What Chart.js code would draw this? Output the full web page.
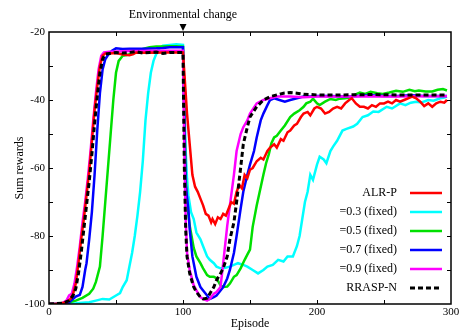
<!DOCTYPE html>
<html lang="en">
<head>
    <meta charset="UTF-8">
    <title>Sum rewards per episode</title>
    <script src="https://cdn.jsdelivr.net/npm/chart.js@4.4.1/dist/chart.umd.min.js"></script>
    <style>
        body {
            margin: 0;
            background-color: #FFFFFF;
        }
        #wrap {
            width: 463px;
            height: 331px;
        }
    </style>
</head>
<body>
    <div id="wrap">
        <canvas id="rewardChart" width="463" height="331"></canvas>
    </div>

    <script>
        // x axis: episode, y axis: sum rewards
        const xTicks = [0, 100, 200, 300];
        const yTicks = [-100, -80, -60, -40, -20];
        const changeEpisode = 100;
        const changeLabel = 'Environmental change';

        const seriesLabels = ['ALR-P', '=0.3 (fixed)', '=0.5 (fixed)', '=0.7 (fixed)', '=0.9 (fixed)', 'RRASP-N'];
        const seriesColors = ['#FF0000', '#00FFFF', '#00E000', '#0000FF', '#FF00FF', '#000000'];

        // ALR-P
        const alrEp = [0, 5, 10, 13, 16, 18, 20, 22, 24, 26, 28, 30, 32, 34, 36, 38, 40, 42, 45, 50, 55, 60, 63, 65, 70, 75, 80, 85, 90, 95, 100,
            101, 102, 103, 105, 107, 109, 111, 113, 115, 117, 119, 121, 122, 124, 126, 128, 130, 132, 134, 136, 138, 140, 142, 144, 146, 148, 150,
            152, 155, 158, 160, 163, 165, 168, 170, 173, 175, 178, 180, 183, 185, 188, 190, 193, 195, 198, 200, 203, 206, 209, 212, 215, 218, 221,
            224, 226, 229, 232, 235, 238, 241, 244, 247, 250, 253, 256, 259, 262, 265, 268, 271, 274, 277, 280, 283, 286, 289, 292, 295, 297];
        const alrVal = [-100, -100, -99.7, -99.5, -98.5, -97, -94, -88, -81, -75, -68, -61, -52, -43, -36, -30, -27, -26.3, -26.3, -26.2, -26.6, -26.8, -26.5, -26, -26.1, -26, -26.1, -26, -26, -26, -26,
            -32, -38, -44, -53, -62, -65.5, -67, -69, -71, -73.5, -74, -76, -75, -76.5, -74.5, -75, -73.5, -74, -72, -70, -70.5, -67, -65, -66, -62, -63, -60.5,
            -60, -58, -57, -57.5, -55, -54, -53, -54, -51.5, -52, -49.5, -49, -47.5, -47, -45, -44, -43.5, -44.5, -42.5, -42, -42.5, -44, -43.5, -42.5, -42, -42.5, -41,
            -40, -39.5, -41, -42, -42, -42.5, -41.5, -42, -41, -41, -40.5, -41, -40, -40.5, -40, -39.5, -39, -39.5, -40.5, -41.8, -41, -42, -41, -40.5, -40.8, -40];

        // fixed 0.3
        const p3Ep = [0, 10, 20, 30, 35, 40, 45, 50, 53, 55, 58, 60, 62, 64, 66, 68, 70, 72, 74, 76, 78, 80, 82, 85, 90, 95, 100,
            101, 102, 103, 104, 106, 108, 110, 113, 115, 118, 120, 123, 125, 128, 131, 135, 138, 141, 145, 148, 152, 156, 160, 163, 167, 171, 175, 178, 182, 185,
            187, 189, 191, 193, 195, 197, 200, 202, 205, 207, 210, 212, 215, 219, 222, 227, 230, 234, 238, 242, 246, 252, 256, 262, 266, 270, 274, 278, 283, 287, 292, 295, 297];
        const p3Val = [-100, -100, -99.8, -99.5, -99, -98.5, -98.7, -97.5, -96.8, -95, -93, -89, -85, -80, -74, -67, -58, -46, -38, -32, -28.5, -26.5, -25, -24, -23.8, -23.6, -23.8,
            -40, -55, -63, -68, -73, -75, -79, -81, -83, -86, -87, -88, -89, -89.5, -89.4, -89, -88.5, -88, -88.5, -89, -90, -91, -90, -89, -88.5, -87, -87.5, -86, -86, -83,
            -80, -75, -70, -67, -62, -63.5, -59, -56.7, -57.5, -58.6, -55, -53.7, -52, -49, -48.5, -47.8, -47, -45, -44.5, -43.4, -43.5, -42, -42.5, -41, -41.5, -40.8, -40.5, -40.7, -40, -40.2, -39.5, -39.3, -39];

        // fixed 0.5
        const p5Ep = [0, 10, 15, 20, 25, 30, 33, 35, 38, 40, 42, 44, 46, 48, 50, 52, 55, 58, 60, 63, 66, 70, 75, 80, 85, 90, 95, 100,
            101, 102, 103, 105, 108, 110, 113, 115, 118, 120, 123, 125, 128, 130, 133, 135, 138, 140, 143, 146, 148, 150, 152, 155, 157, 160, 162, 164, 166, 168,
            170, 173, 176, 180, 183, 187, 190, 192, 195, 197, 200, 202, 206, 210, 214, 217, 221, 224, 228, 232, 236, 240, 245, 249, 254, 259, 264, 269, 273, 276, 281, 286, 290, 294, 297];
        const p5Val = [-100, -100, -99.5, -99, -98.2, -97, -95.5, -93.5, -89, -80, -70, -60, -50, -40, -32, -28.5, -27, -26.8, -26.5, -26, -25.5, -25, -24.5, -24.3, -24.3, -24.2, -24.2, -24.3,
            -45, -62, -70, -77, -83.5, -86, -88, -89.5, -91.5, -92, -92, -92.4, -94.5, -95, -94.9, -94, -92, -91.5, -89.5, -87, -85.5, -84, -77.3, -71, -67.4, -62, -58.6, -56, -52.7, -51,
            -50.5, -49, -47.5, -45, -44, -43, -42, -41, -40.5, -39.6, -41, -41.5, -40.5, -39.7, -40, -39.6, -39.5, -39.3, -38.5, -37.8, -38.2, -37.6, -38, -38.2, -37.8, -37.3, -37.6, -37, -37.4, -37.2, -37.5, -37.5, -37, -36.8, -37.2];

        // fixed 0.7
        const p7Ep = [0, 10, 15, 18, 20, 23, 25, 27, 28, 30, 32, 34, 36, 38, 40, 42, 44, 47, 50, 55, 60, 70, 80, 85, 90, 100,
            101, 102, 104, 105, 107, 110, 113, 115, 118, 120, 123, 125, 128, 130, 133, 135, 138, 140, 143, 145, 148, 150, 153, 155, 158, 160, 163, 165,
            168, 172, 176, 180, 185, 190, 195, 200, 210, 220, 230, 240, 250, 260, 270, 280, 290, 297];
        const p7Val = [-100, -100, -99.5, -98.5, -97.8, -97.3, -95, -90, -88, -81, -73, -62, -49, -38, -31, -28, -26.8, -25.5, -24.8, -25, -24.9, -24.9, -24.8, -24.7, -24.5, -24.5,
            -45, -65, -72, -78, -86, -92, -95, -96, -97.5, -98.5, -98, -97.5, -96, -95, -92.5, -90, -85, -80, -72, -67, -62, -59, -55, -51, -46, -44, -41.5, -40,
            -39.5, -40, -40.5, -40, -39.5, -39, -39, -38.8, -38.8, -39, -38.8, -38.6, -38.8, -38.8, -38.6, -38.8, -38.8, -38.8];

        // fixed 0.9
        const p9Ep = [0, 5, 10, 13, 15, 17, 19, 21, 23, 25, 27, 29, 31, 33, 35, 37, 39, 41, 45, 50, 60, 70, 80, 90, 100,
            101, 102, 103, 105, 108, 110, 113, 115, 118, 120, 123, 125, 128, 130, 133, 135, 138, 140, 143, 145, 148, 150, 155, 160, 165, 170, 180, 190, 200, 220, 240, 260, 280, 297];
        const p9Val = [-100, -100, -99.7, -99, -97.5, -97, -94, -89, -83, -76, -70, -63, -55, -46, -38, -31, -27, -26, -25.8, -25.7, -25.6, -25.6, -25.5, -25.5, -25.5,
            -55, -75, -85, -90, -94.5, -96, -98, -98.5, -99, -98.5, -97, -96.5, -95, -88, -77, -71, -62, -55, -50, -48, -46, -44, -41, -40, -39.5, -39, -39, -39.2, -39, -39, -38.9, -39, -38.9, -38.9];

        // RRASP-N
        const rrEp = [0, 10, 15, 18, 20, 22, 24, 26, 28, 30, 32, 34, 36, 38, 40, 42, 45, 50, 55, 60, 65, 70, 75, 80, 85, 90, 95, 100,
            101, 102, 103, 105, 108, 110, 113, 115, 118, 120, 123, 125, 128, 130, 133, 135, 138, 140, 143, 145, 148, 150, 155, 160, 165, 170, 175, 180, 185, 190, 200, 220, 240, 260, 280, 297];
        const rrVal = [-100, -99.8, -99, -97.5, -95.5, -91, -85, -78, -71, -64, -56, -47, -39, -32, -28, -26.5, -26.3, -26, -26.2, -26, -25.8, -26.2, -26, -25.9, -26.3, -26, -26, -26,
            -60, -78, -86, -91, -95, -96.5, -98, -98.5, -98.3, -97, -95, -93, -91, -89.5, -86, -81, -76, -70, -60, -53, -48, -45, -42, -40, -39, -38.5, -38, -37.8, -38, -38.3, -38.5, -38.5, -38.4, -38.5, -38.5, -38.5];

        const seriesEp = [alrEp, p3Ep, p5Ep, p7Ep, p9Ep, rrEp];
        const seriesVal = [alrVal, p3Val, p5Val, p7Val, p9Val, rrVal];

        const datasets = seriesLabels.map((label, i) => ({
            label: label,
            data: seriesEp[i].map((ep, j) => ({ x: ep, y: seriesVal[i][j] })),
            borderColor: seriesColors[i],
            borderWidth: i === 5 ? 3 : 2.5,
            borderDash: i === 5 ? [5, 3] : [],
            pointRadius: 0,
            tension: 0,
            fill: false,
            // red sits on top of the coloured curves, dashed line on top of all
            order: i === 5 ? 0 : (i === 0 ? 1 : 10 - i)
        }));

        // frame, inside ticks on all four sides, and the change marker
        const framePlugin = {
            id: 'frame',
            afterDraw(chart) {
                const ctx = chart.ctx;
                const a = chart.chartArea;
                const xs = chart.scales.x;
                const ys = chart.scales.y;
                ctx.save();
                ctx.strokeStyle = '#000000';
                ctx.lineWidth = 1.5;
                ctx.strokeRect(a.left, a.top, a.right - a.left, a.bottom - a.top);

                ctx.lineWidth = 1;
                ctx.beginPath();
                for (let v = 50; v < 300; v += 50) {
                    const px = Math.round(xs.getPixelForValue(v)) + 0.5;
                    ctx.moveTo(px, a.bottom); ctx.lineTo(px, a.bottom - 4);
                    ctx.moveTo(px, a.top); ctx.lineTo(px, a.top + 4);
                }
                for (let v = -90; v < -20; v += 10) {
                    const py = Math.round(ys.getPixelForValue(v)) + 0.5;
                    ctx.moveTo(a.left, py); ctx.lineTo(a.left + 4, py);
                    ctx.moveTo(a.right, py); ctx.lineTo(a.right - 4, py);
                }
                ctx.stroke();

                // Environmental change label + arrow
                const cx = xs.getPixelForValue(changeEpisode);
                ctx.fillStyle = '#000000';
                ctx.font = '12px "Liberation Serif", serif';
                ctx.textAlign = 'center';
                ctx.textBaseline = 'alphabetic';
                ctx.fillText(changeLabel, cx, 18);
                ctx.beginPath();
                ctx.moveTo(cx - 3.5, a.top - 8);
                ctx.lineTo(cx + 3.5, a.top - 8);
                ctx.lineTo(cx, a.top - 1);
                ctx.closePath();
                ctx.fill();

                // legend, bottom right inside the plot
                ctx.font = '12px "Liberation Serif", serif';
                ctx.textAlign = 'right';
                ctx.textBaseline = 'middle';
                chart.data.datasets.forEach((ds, i) => {
                    const ry = a.bottom - 111 + i * 19;
                    ctx.fillStyle = '#000000';
                    ctx.fillText(ds.label, a.right - 54, ry);
                    ctx.strokeStyle = ds.borderColor;
                    ctx.lineWidth = ds.borderWidth;
                    ctx.setLineDash(ds.borderDash);
                    ctx.beginPath();
                    ctx.moveTo(a.right - 41, ry);
                    ctx.lineTo(a.right - 9, ry);
                    ctx.stroke();
                    ctx.setLineDash([]);
                });
                ctx.restore();
            }
        };

        Chart.defaults.font.family = '"Liberation Serif", serif';
        Chart.defaults.color = '#000000';

        const chart = new Chart(document.getElementById('rewardChart').getContext('2d'), {
            type: 'line',
            data: { datasets: datasets },
            options: {
                responsive: false,
                animation: false,
                layout: { padding: { top: 32, right: 12, left: 0, bottom: 0 } },
                plugins: {
                    legend: { display: false },
                    tooltip: { enabled: false }
                },
                scales: {
                    x: {
                        type: 'linear',
                        min: 0,
                        max: 300,
                        afterBuildTicks: (scale) => { scale.ticks = xTicks.map(v => ({ value: v })); },
                        ticks: { font: { size: 11 }, padding: 2, maxRotation: 0 },
                        grid: { display: false, drawTicks: false },
                        border: { display: false },
                        title: { display: true, text: 'Episode', font: { size: 12 }, padding: { top: 0, bottom: 0 } },
                        afterFit: (scale) => { scale.height = 27; }
                    },
                    y: {
                        min: -100,
                        max: -20,
                        afterBuildTicks: (scale) => { scale.ticks = yTicks.map(v => ({ value: v })); },
                        ticks: { font: { size: 11 }, padding: 4 },
                        grid: { display: false, drawTicks: false },
                        border: { display: false },
                        title: { display: true, text: 'Sum rewards', font: { size: 12 }, padding: { top: 13, bottom: 0 } },
                        afterFit: (scale) => { scale.width = 49; }
                    }
                }
            },
            plugins: [framePlugin]
        });
    </script>
</body>
</html>
